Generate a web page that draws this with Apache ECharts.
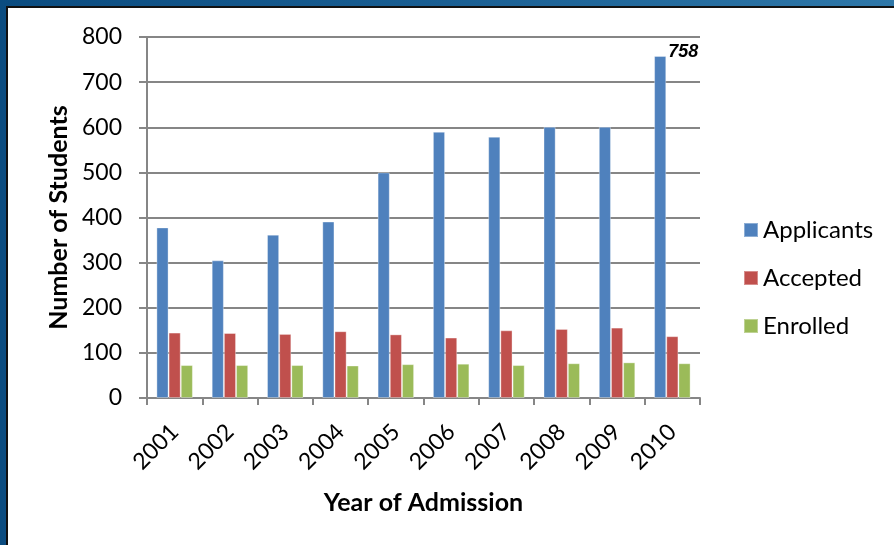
<!DOCTYPE html>
<html>
<head>
<meta charset="utf-8">
<script src="https://cdn.jsdelivr.net/npm/echarts@6/dist/echarts.min.js"></script>
<style>
  html, body { margin: 0; padding: 0; }
  body {
    width: 894px; height: 545px; overflow: hidden; position: relative;
    background: linear-gradient(90deg, #0b4c80 0%, #1a5f93 50%, #2f78a9 100%);
  }
  #frame {
    position: absolute; left: 6px; top: 6px; right: 0; bottom: 0;
    border-left: 2px solid #111; border-top: 2px solid #111; background: #fff;
  }
  #chart { position: absolute; left: 0; top: 0; width: 886px; height: 537px; }
</style>
</head>
<body>
<div id="frame"><div id="chart"></div></div>
<script>
// data
var years = ["2001", "2002", "2003", "2004", "2005", "2006", "2007", "2008", "2009", "2010"];
var applicants = [378, 305, 362, 391, 500, 590, 579, 601, 601, 758];
var accepted = [145, 144, 142, 148, 141, 134, 150, 153, 156, 137];
var enrolled = [73, 73, 73, 72, 75, 76, 73, 77, 79, 77];

var font = "Lato, 'Open Sans', sans-serif";
var gray = "#868686";

var chart = echarts.init(document.getElementById("chart"));

// only the 2010 applicants bar carries a label
var appData = applicants.map(function (v, i) {
  if (i === applicants.length - 1) {
    return {
      value: v,
      label: {
        show: true, position: "top", distance: 0, offset: [23, 5],
        fontFamily: "'Liberation Sans', Arial, sans-serif",
        fontWeight: "bold", fontStyle: "italic", fontSize: 18, color: "#000"
      }
    };
  }
  return v;
});

function bar(name, data, color) {
  return {
    name: name, type: "bar", data: data,
    barGap: "0%", barCategoryGap: "34%",
    itemStyle: { color: color, borderColor: "rgba(255,255,255,0.35)", borderWidth: 1 }
  };
}

chart.setOption({
  animation: false,
  textStyle: { fontFamily: font },
  grid: { left: 139, top: 29, right: 194, bottom: 147 },
  legend: {
    orient: "vertical", left: 730, top: 205,
    itemWidth: 14, itemHeight: 14, itemGap: 24,
    icon: "rect",
    textStyle: { fontSize: 24, color: "#000", fontFamily: font },
    data: ["Applicants", "Accepted", "Enrolled"]
  },
  xAxis: {
    type: "category", data: years,
    name: "Year of Admission", nameLocation: "middle", nameGap: 92,
    nameTextStyle: { fontSize: 25, fontWeight: "bold", color: "#000", fontFamily: font },
    axisLine: { lineStyle: { color: gray, width: 2 } },
    axisTick: { show: true, length: 7, lineStyle: { color: gray, width: 2 } },
    axisLabel: { rotate: 45, fontSize: 23, color: "#000", margin: 30, fontFamily: font }
  },
  yAxis: {
    type: "value", min: 0, max: 800, interval: 100,
    name: "Number of Students", nameLocation: "middle", nameGap: 75,
    nameTextStyle: { fontSize: 25, fontWeight: "bold", color: "#000", fontFamily: font },
    axisLine: { show: true, lineStyle: { color: gray, width: 2 } },
    axisTick: { show: true, length: 8, lineStyle: { color: gray, width: 2 } },
    axisLabel: { fontSize: 23, color: "#000", margin: 25, fontFamily: font },
    splitLine: { lineStyle: { color: gray, width: 2 } }
  },
  series: [
    bar("Applicants", appData, "#4f81bd"),
    bar("Accepted", accepted, "#c0504d"),
    bar("Enrolled", enrolled, "#9bbb59")
  ]
});
</script>
</body>
</html>
